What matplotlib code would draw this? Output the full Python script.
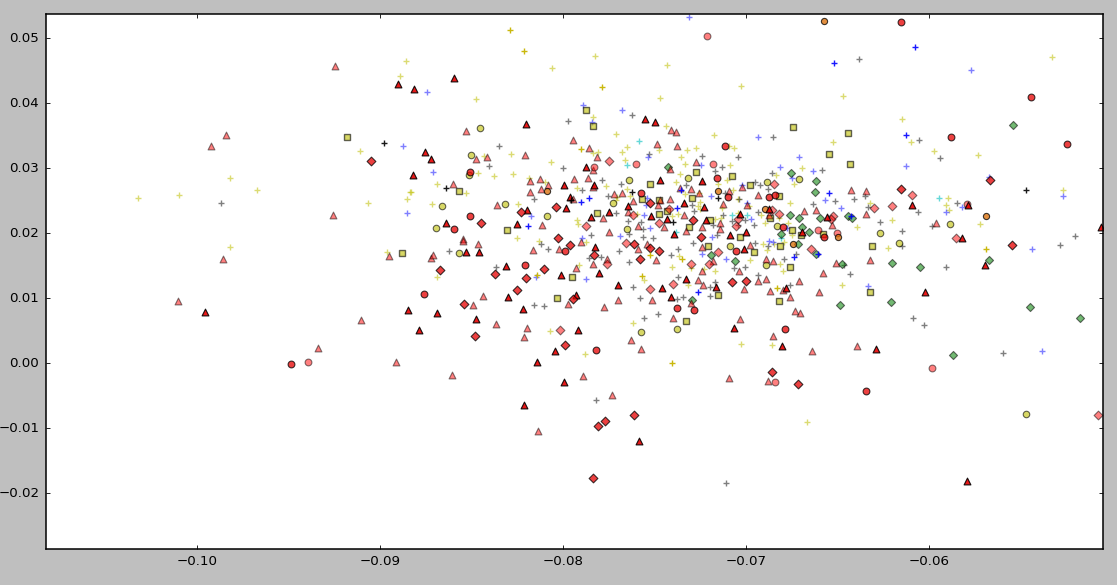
import matplotlib
import numpy as np

matplotlib.use("Agg")
import matplotlib.pyplot as plt

# values, one small list per mark style
tri_dark_x = [-.08903, -.0996, -.08851, -.08597, -.08816, -.08204, -.07554, -.07499, -.08758, -.08723, -.08822, -.07876, -.07832, -.07995, -.07472, -.07242, -.07962, -.07645, -.07339, -.08199, -.07985, -.08641, -.08253, -.07849, -.0775, -.07521, -.07434, -.0722, -.07002, -.07395, -.07035, -.07231, -.07089, -.08532, -.08461, -.08313, -.08013, -.07805, -.07701, -.07461, -.0733, -.07412, -.07166, -.08302, -.0822, -.08477, -.0869, -.08789, -.0792, -.08046, -.07067, -.07996, -.08215, -.07587, -.07931, -.0701, -.08144, -.07827, -.06095, -.05787, -.05062, -.06559, -.05823, -.06876, -.06696, -.06783, -.06805, -.06291, -.06024, -.05794, -.05696]
tri_dark_y = [.04297, .0079, .00815, .04385, .04215, .03677, .03754, .03708, .03246, .03138, .02897, .03015, .02738, .02738, .02815, .028, .02554, .02415, .02462, .02354, .02385, .02154, .02138, .02246, .02323, .02262, .02215, .022, .02015, .01985, .02292, .024, .01969, .01715, .01715, .015, .01362, .01392, .01208, .01162, .013, .01023, .01177, .01023, .00838, .00685, .00777, .00515, .00515, .00192, .00546, -.00285, -.00638, -.01192, .01054, .01762, .00018, .01792, .02431, .02431, .02092, .02246, .01918, .02369, .0202, .01156, .00264, .00218, .01095, -.01813, .01515]

tri_light_x = [-.09248, -.09843, -.09925, -.09259, -.0986, -.08953, -.10106, -.09106, -.09341, -.08914, -.08532, -.07947, -.0786, -.07488, -.07379, -.07412, -.07384, -.08209, -.08417, -.08477, -.07816, -.07838, -.08603, -.08182, -.08128, -.07942, -.07865, -.08084, -.08182, -.08122, -.07838, -.07723, -.07679, -.07275, -.07415, -.07362, -.07302, -.07257, -.07945, -.08362, -.07417, -.07472, -.07481, -.07621, -.07648, -.07783, -.08117, -.0775, -.07592, -.0745, -.0733, -.07242, -.07142, -.08546, -.07128, -.07093, -.07022, -.06934, -.06998, -.07142, -.07341, -.08723, -.08712, -.08466, -.08546, -.08166, -.08024, -.07931, -.07838, -.07761, -.07592, -.07543, -.07494, -.07242, -.07242, -.07264, -.07239, -.07302, -.07516, -.07701, -.07778, -.07974, -.08439, -.08495, -.08368, -.08199, -.08215, -.08608, -.07893, -.07734, -.08138, -.0763, -.07576, -.07401, -.07035, -.07095, -.0701, -.0704, -.0718, -.07903, -.0698, -.06934, -.0643, -.06346, -.06685, -.06619, -.06346, -.06532, -.05964, -.06876, -.0651, -.06324, -.06581, -.06893, -.06856, -.06712, -.06893, -.06871, -.06798, -.06603, -.06761, -.06734, -.06707, -.06854, -.06641, -.06395, -.06882]
tri_light_y = [.04569, .03513, .03344, .02277, .01605, .01646, .00954, .00662, .00231, .00015, .03569, .03431, .03308, .03369, .03338, .03585, .03554, .032, .03169, .03138, .03169, .02969, .02754, .028, .02831, .02831, .02846, .02738, .02631, .02677, .02708, .026, .02615, .03092, .02985, .02692, .02677, .02615, .02523, .02431, .02523, .02508, .02431, .02492, .02323, .02231, .02123, .02021, .02108, .02092, .02031, .02097, .02062, .01908, .02446, .02646, .02708, .02585, .02431, .02154, .02277, .01623, .01669, .01838, .01885, .01746, .01762, .01469, .01531, .01608, .01762, .01838, .01592, .01792, .01423, .01285, .01208, .00931, .00977, .00977, .00869, .00915, .01038, .009, .00608, .00546, .00408, -.00177, -.00192, -.00485, -.01038, .00362, .00223, .007, .00685, -.00223, .01146, .01423, .01577, .01869, .01823, .01269, .02662, .02646, .02338, .02354, .02292, .02123, .02154, .02282, .01541, .01587, .01387, .01603, .01572, .01264, .01295, .0111, .0113, .01095, .01018, .00803, .00777, .00418, .00187, .00264, -.00274]

dark_circle_x = [-.09488, -.0851, -.0851, -.08597, -.07117, -.07162, -.07097, -.07577, -.08209, -.08761, -.07991, -.0782, -.07379, -.07286, -.07056, -.05444, -.05882, -.05248, -.06878, -.06845, -.06576, -.068, -.06789, -.06346, -.06155]
dark_circle_y = [-.0001, .02938, .02262, .02067, .03344, .02851, .02559, .02615, .01515, .01069, .01731, .00208, .00854, .00823, .01731, .04097, .03482, .03374, .02554, .02585, .01944, .02097, .00531, -.00423, .05251]

dark_diamond_x = [-.09051, -.08231, -.08452, -.08042, -.07526, -.07291, -.07248, -.08031, -.08674, -.08373, -.08106, -.08204, -.08253, -.08543, -.08483, -.07991, -.07947, -.07832, -.07581, -.07614, -.07526, -.07477, -.07616, -.0781, -.07772, -.0784, -.07078, -.07002, -.07964, -.06155, -.0567, -.0686, -.06718, -.05548]
dark_diamond_y = [.03113, .02328, .02154, .024, .02467, .022, .01944, .01923, .01438, .01377, .01454, .01315, .01131, .00915, .00423, .00285, .00992, .01669, .01608, .01838, .01777, .01731, -.00792, -.00962, -.00885, -.01762, .01254, .01269, .01823, .02682, .02821, -.00131, -.00315, .01813]

light_circle_x = [-.09397, -.07215, -.07603, -.07832, -.07182, -.05792, -.06608, -.06505, -.05985, -.06843]
light_circle_y = [.00021, .05036, .03067, .03015, .03067, .02441, .02051, .02005, -.00069, -.00285]

light_diamond_x = [-.0775, -.07874, -.07621, -.07477, -.07423, -.07047, -.07058, -.07761, -.07302, -.07401, -.07526, -.08018, -.07204, -.07658, -.07155, -.06095, -.06204, -.06302, -.06849, -.06858, -.06821, -.06526, -.06537, -.05851, -.06647, -.05078]
light_diamond_y = [.03113, .02113, .02282, .02159, .02374, .0221, .02103, .01531, .01531, .01223, .01146, .00515, .01531, .01854, .01715, .0259, .02421, .0239, .02759, .02354, .02297, .02267, .0222, .01928, .01762, -.00792]

yellow_circle_x = [-.08455, -.08505, -.08513, -.08663, -.08319, -.08696, -.08089, -.07643, -.07319, -.07727, -.0765, -.0857, -.07576, -.07379, -.07089, -.06887, -.06712, -.05887, -.0627, -.06832, -.06166, -.06894, -.05472]
yellow_circle_y = [.0361, .03205, .02897, .0241, .02441, .02082, .02267, .0282, .02851, .02456, .02056, .017, .00485, .00531, .01808, .0279, .02836, .02144, .02005, .02113, .01854, .01515, -.00777]

square_x = [-.0918, -.0888, -.07874, -.07836, -.08572, -.08306, -.07077, -.07568, -.07475, -.07475, -.07197, -.07311, -.07432, -.07033, -.07273, -.07525, -.06978, -.07814, -.07295, -.07951, -.07153, -.07328, -.07208, -.06958, -.08033, -.06743, -.06443, -.06546, -.06432, -.0682, -.06869, -.06749, -.06579, -.06699, -.06311, -.06814, -.06322, -.0682, -.0676]
square_y = [.03477, .01692, .03892, .03646, .02646, .02046, .02877, .02523, .02508, .02292, .022, .02092, .02338, .01938, .02938, .02754, .02738, .02308, .02538, .01326, .01049, .00649, .01797, .01715, .01003, .03631, .03538, .03215, .03062, .02569, .02226, .02046, .01985, .01969, .01803, .01803, .01095, .00956, .0148]

green_x = [-.05543, -.06756, -.06625, -.06597, -.06444, -.06712, -.06695, -.06619, -.06761, -.06423, -.06812, -.06658, -.07429, -.07193, -.07062, -.07297, -.06619, -.05871, -.05177, -.06204, -.06051, -.0545, -.06716, -.06475, -.06488, -.06209, -.05674]
green_y = [.03667, .02918, .02626, .02236, .02267, .02231, .02097, .028, .02277, .02231, .01985, .02015, .03015, .0167, .01572, .00977, .01674, .00126, .00695, .01536, .0148, .00869, .01838, .0153, .009, .00946, .01592]

orange_x = [-.08089, -.07155, -.0569, -.06497, -.06576, -.06898, -.06743]
orange_y = [.02646, .02646, .02267, .01938, .05267, .02374, .01833]

yellow_plus_x = [-.08858, -.08891, -.09109, -.0982, -.09672, -.10322, -.10098, -.09066, -.08853, -.0982, -.08962, -.0884, -.0806, -.07825, -.07432, -.07027, -.0747, -.08475, -.07836, -.07437, -.0771, -.07175, -.0765, -.07475, -.07678, -.07836, -.07809, -.08284, -.08432, -.08066, -.07661, -.08464, -.08377, -.08273, -.08689, -.0853, -.08716, -.08246, -.07923, -.07765, -.08186, -.08098, -.08834, -.07322, -.07273, -.07355, -.07333, -.07093, -.07066, -.07087, -.07383, -.07361, -.08251, -.07918, -.07923, -.0765, -.07634, -.07705, -.0771, -.07333, -.07257, -.07251, -.07262, -.07153, -.07104, -.07071, -.07044, -.06984, -.07131, -.07044, -.07372, -.07596, -.07404, -.07251, -.07137, -.0717, -.08689, -.07913, -.07557, -.07404, -.07301, -.07317, -.07169, -.06978, -.07617, -.08071, -.0788, -.07027, -.07874, -.08131, -.07366, -.07231, -.05328, -.0647, -.06148, -.06525, -.06098, -.05973, -.05732, -.06694, -.06838, -.06738, -.05268, -.05896, -.05907, -.05891, -.0676, -.06322, -.06202, -.06393, -.05721, -.06771, -.0682, -.06922, -.06896, -.06749, -.06224, -.06475, -.06814, -.06798, -.06885, -.06907, -.06847, -.06792, -.06858, -.06667]
yellow_plus_y = [.04646, .04415, .03262, .02846, .02662, .02538, .02585, .02462, .02523, .01785, .01703, .02626, .04538, .04723, .04585, .04262, .04077, .04062, .03785, .03646, .03523, .03508, .03323, .03277, .03246, .03231, .03246, .03215, .03185, .03092, .03123, .02923, .02877, .02908, .02754, .02615, .02446, .02446, .02692, .02723, .02846, .0279, .02631, .03277, .03308, .03169, .03062, .03338, .03308, .03046, .02785, .02908, .01923, .02138, .022, .02677, .02569, .02554, .02508, .026, .02615, .02477, .02415, .02754, .02815, .02662, .02523, .02415, .02385, .02308, .02292, .02292, .02262, .02369, .02231, .02215, .01326, .01515, .01285, .01479, .01464, .01208, .01418, .01587, .00618, .00495, .00141, .00295, .01869, .01885, .01654, .01454, .04708, .04108, .03754, .034, .034, .03262, .032, .03, .02892, .02754, .02662, .02538, .02431, .02354, .02462, .02462, .022, .02092, .02138, .02154, .02231, .02277, .02154, .01969, .01772, .01203, .01526, .01418, .01741, .01833, .01833, .01864, .00279, -.00905]

yellow_strong_x = [-.0829, -.08213, -.07787, -.07902, -.08142, -.07568, -.07525, -.0735, -.07408, -.05689, -.0683]
yellow_strong_y = [.05123, .048, .04246, .03292, .01362, .01341, .01664, .01603, .00003, .01756, .01156]

gray_plus_x = [-.09869, -.07973, -.07623, -.0835, -.08404, -.08, -.07241, -.0753, -.07044, -.07131, -.0717, -.07787, -.07683, -.07328, -.07896, -.08158, -.07754, -.0771, -.06951, -.07038, -.07115, -.07295, -.07284, -.07645, -.07574, -.07563, -.07639, -.07847, -.07563, -.07508, -.07181, -.07126, -.07077, -.07009, -.07162, -.07044, -.06956, -.06934, -.08623, -.08366, -.0812, -.08082, -.08158, -.08104, -.0782, -.07109, -.07694, -.07639, -.07792, -.07858, -.07617, -.07579, -.07557, -.07481, -.07377, -.07344, -.07372, -.0741, -.07372, -.0729, -.07197, -.07197, -.07067, -.07005, -.07169, -.06936, -.0695, -.06383, -.06852, -.06055, -.0594, -.06585, -.06858, -.05847, -.0606, -.06268, -.06148, -.05984, -.05202, -.06634, -.06514, -.0641, -.06333, -.0635, -.0688, -.06923, -.05284, -.05907, -.06148, -.06792, -.06727, -.06881, -.06432, -.0676, -.06087, -.06027, -.05596, -.06465]
gray_plus_y = [.02462, .03723, .03815, .03338, .03031, .03, .0319, .03215, .03169, .03015, .02954, .02815, .02754, .02738, .02662, .02523, .02569, .02308, .02785, .02523, .02615, .02431, .02338, .02185, .02169, .02062, .01985, .01969, .01938, .01923, .02123, .02277, .02185, .022, .01969, .02123, .02123, .02323, .01731, .01479, .01838, .01756, .00895, .0088, -.00567, -.01844, .01731, .01556, .01638, .01623, .01172, .01003, .00695, .00756, .00987, .01018, .01326, .01669, .01756, .01849, .01172, .01033, .01464, .0148, .01254, .01362, .01854, .04677, .03477, .03431, .03154, .02969, .02923, .02462, .02323, .02169, .02031, .02108, .01954, .02446, .02492, .02523, .024, .02569, .02677, .02738, .01818, .0148, .01803, .01603, .0168, .01803, .01372, .01203, .00695, .00587, .00156, .01515]

dark_plus_x = [-.08978, -.08639, -.07623, -.07399, -.07153, -.07956, -.0547]
dark_plus_y = [.03385, .02692, .02631, .02169, .02538, .02513, .02662]

blue_plus_x = [-.08874, -.08853, -.07891, -.07678, -.07842, -.08743, -.0871, -.07536, -.07246, -.08175, -.07557, -.07525, -.07689, -.07896, -.07191, -.07541, -.07546, -.06934, -.06973, -.06995, -.07022, -.07186, -.07874, -.08148, -.0724, -.07109, -.0577, -.0671, -.06814, -.06126, -.06634, -.06749, -.06568, -.06481, -.05672, -.05268, -.05907, -.0582, -.06778, -.05437, -.06333, -.05383, -.06875, -.06851, -.07311]
blue_plus_y = [.03338, .02308, .03969, .03892, .03708, .04169, .02938, .03169, .03046, .02262, .02277, .02077, .01954, .01923, .02569, .02538, .02431, .03477, .02215, .02462, .02738, .01938, .01295, .01326, .0168, .01603, .04508, .03169, .03015, .03031, .02954, .02846, .02508, .02385, .02862, .02569, .02323, .024, .02077, .01756, .01187, .00187, .01885, .01859, .05323]

blue_strong_x = [-.07902, -.07858, -.08191, -.07355, -.07377, -.07262, -.06077, -.06519, -.06126, -.06546, -.06426, -.06738, -.06607]
blue_strong_y = [.02477, .02538, .02108, .02662, .02385, .01095, .04862, .04615, .03508, .02615, .02256, .01633, .0168]

cyan_plus_x = [-.07585, -.0765, -.07383, -.06995, -.07077, -.05945, -.06812]
cyan_plus_y = [.03415, .03046, .02015, .02277, .02277, .02538, .01918]

y_ticks = [-0.02, -0.01, 0.0, 0.01, 0.02, 0.03, 0.04, 0.05]
x_ticks = [-0.10, -0.09, -0.08, -0.07, -0.06]

plt.style.use("classic")
plt.rcParams["font.family"] = "DejaVu Sans"

fig = plt.figure(figsize=(11.17, 5.85), dpi=100, facecolor="#bfbfbf")
ax = fig.add_axes([45.5 / 1117, 1 - 549 / 585, (1103 - 45.5) / 1117, (549 - 14) / 585])

plus_size = 16
edge = 0.8
ax.scatter(np.array(yellow_plus_x), np.array(yellow_plus_y), marker="+", s=plus_size, color="y", alpha=0.55)
ax.scatter(np.array(gray_plus_x), np.array(gray_plus_y), marker="+", s=plus_size, color="k", alpha=0.5)
ax.scatter(np.array(blue_plus_x), np.array(blue_plus_y), marker="+", s=plus_size, color="b", alpha=0.5)
ax.scatter(np.array(cyan_plus_x), np.array(cyan_plus_y), marker="+", s=plus_size, color="c", alpha=0.6)

ax.scatter(np.array(square_x), np.array(square_y), marker="s", s=14, color="y", edgecolors="k", linewidths=1.0, alpha=0.6)
ax.scatter(np.array(yellow_circle_x), np.array(yellow_circle_y), marker="o", s=22, color="y", edgecolors="k", linewidths=edge, alpha=0.6)
ax.scatter(np.array(green_x), np.array(green_y), marker="D", s=17, color="g", edgecolors="k", linewidths=edge, alpha=0.55)
ax.scatter(np.array(tri_light_x), np.array(tri_light_y), marker="^", s=24, color="r", edgecolors="k", linewidths=edge, alpha=0.5)
ax.scatter(np.array(light_circle_x), np.array(light_circle_y), marker="o", s=24, color="r", edgecolors="k", linewidths=edge, alpha=0.5)
ax.scatter(np.array(light_diamond_x), np.array(light_diamond_y), marker="D", s=20, color="r", edgecolors="k", linewidths=edge, alpha=0.5)
ax.scatter(np.array(orange_x), np.array(orange_y), marker="o", s=20, color="#d96a00", edgecolors="k", linewidths=edge, alpha=0.75)
ax.scatter(np.array(tri_dark_x), np.array(tri_dark_y), marker="^", s=24, color="#e60000", edgecolors="k", linewidths=edge, alpha=0.9)
ax.scatter(np.array(dark_circle_x), np.array(dark_circle_y), marker="o", s=24, color="#e60000", edgecolors="k", linewidths=edge, alpha=0.75)
ax.scatter(np.array(dark_diamond_x), np.array(dark_diamond_y), marker="D", s=20, color="#e60000", edgecolors="k", linewidths=edge, alpha=0.75)

ax.scatter(np.array(yellow_strong_x), np.array(yellow_strong_y), marker="+", s=plus_size, color="#c8b400", alpha=0.95)
ax.scatter(np.array(dark_plus_x), np.array(dark_plus_y), marker="+", s=plus_size, color="k", alpha=0.9)
ax.scatter(np.array(blue_strong_x), np.array(blue_strong_y), marker="+", s=plus_size, color="b", alpha=0.9)

ax.set_xlim(-0.1083, -0.0505)
ax.set_ylim(-0.0286, 0.0537)
ax.set_xticks(x_ticks)
ax.set_yticks(y_ticks)
ax.set_xticklabels(["\u22120.10", "\u22120.09", "\u22120.08", "\u22120.07", "\u22120.06"])
ax.set_yticklabels(["\u22120.02", "\u22120.01", "0.00", "0.01", "0.02", "0.03", "0.04", "0.05"])
ax.tick_params(labelsize=9.6, length=3, width=0.6, pad=4.5)
for spine in ax.spines.values():
    spine.set_linewidth(1.1)

fig.savefig("out.png", dpi=100, facecolor=fig.get_facecolor())
